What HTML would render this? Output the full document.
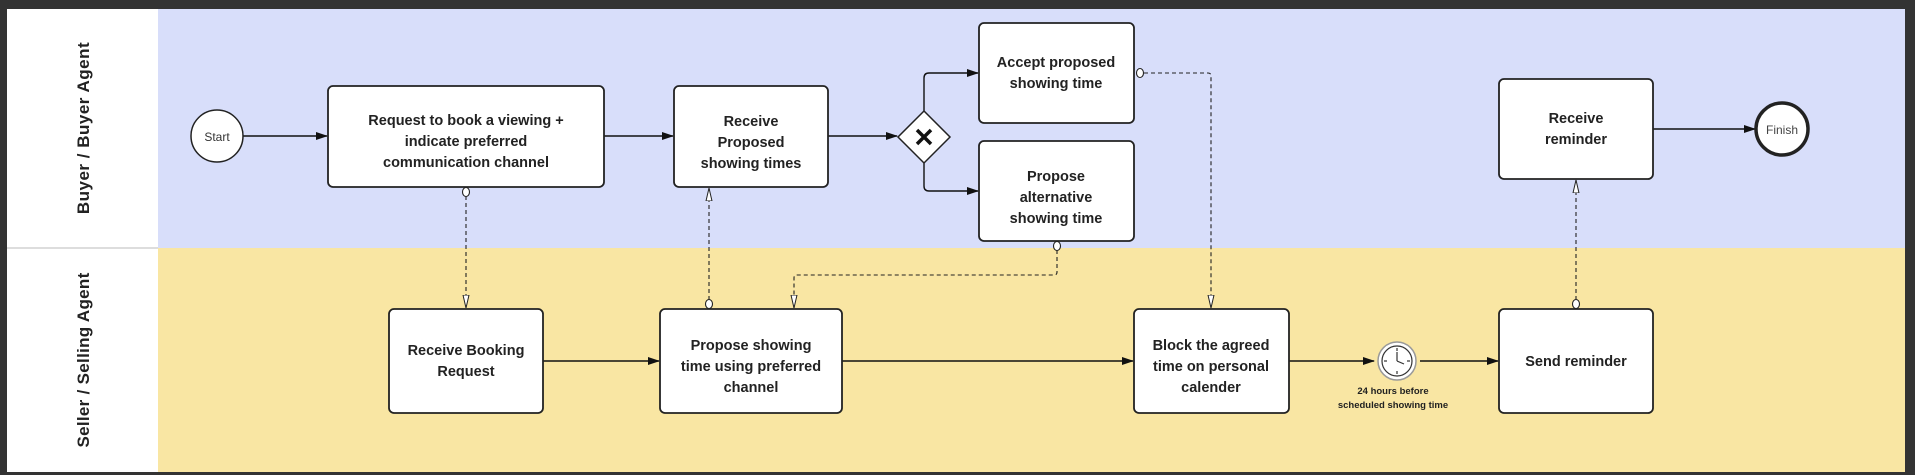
<!DOCTYPE html>
<html><head><meta charset="utf-8"><style>
html,body{margin:0;padding:0;background:#333;}
svg{display:block}
text{font-family:"Liberation Sans",sans-serif;}
.b{font-weight:bold;font-size:14.5px;fill:#222;text-anchor:middle}
</style></head><body>
<svg width="1915" height="475" viewBox="0 0 1915 475" xmlns="http://www.w3.org/2000/svg">
<defs>
<marker id="a" markerWidth="12" markerHeight="10" refX="11" refY="5" orient="auto" markerUnits="userSpaceOnUse"><path d="M0,1 L12,5 L0,9 Z" fill="#111"/></marker>
<marker id="o" markerWidth="14" markerHeight="8" refX="13" refY="4" orient="auto" markerUnits="userSpaceOnUse"><path d="M0,1 L13,4 L0,7 Z" fill="#fff" stroke="#222" stroke-width="1"/></marker>
</defs>
<rect x="0" y="0" width="1915" height="475" fill="#333"/>
<rect x="7" y="9" width="1898" height="463" fill="#fff"/>
<rect x="158" y="9" width="1747" height="239" fill="#d8defa"/>
<rect x="158" y="248" width="1747" height="224" fill="#f9e6a3"/>
<line x1="7" y1="248" x2="158" y2="248" stroke="#ddd" stroke-width="2"/>
<text transform="translate(89,128) rotate(-90)" text-anchor="middle" font-weight="bold" font-size="17" fill="#222" letter-spacing="0.5">Buyer / Buyer Agent</text>
<text transform="translate(89,360) rotate(-90)" text-anchor="middle" font-weight="bold" font-size="17" fill="#222" letter-spacing="0.3">Seller / Selling Agent</text>

<g stroke="#111" stroke-width="1.4" fill="none">
<line x1="243" y1="136" x2="327" y2="136" marker-end="url(#a)"/>
<line x1="604" y1="136" x2="673" y2="136" marker-end="url(#a)"/>
<line x1="828" y1="136" x2="897" y2="136" marker-end="url(#a)"/>
<path d="M924,112 V78 Q924,73 929,73 H978" marker-end="url(#a)"/>
<path d="M924,162 V186 Q924,191 929,191 H978" marker-end="url(#a)"/>
<line x1="543" y1="361" x2="659" y2="361" marker-end="url(#a)"/>
<line x1="842" y1="361" x2="1133" y2="361" marker-end="url(#a)"/>
<line x1="1289" y1="361" x2="1374" y2="361" marker-end="url(#a)"/>
<line x1="1420" y1="361" x2="1498" y2="361" marker-end="url(#a)"/>
<line x1="1653" y1="129" x2="1755" y2="129" marker-end="url(#a)"/>
</g>
<g stroke="#222" stroke-width="1.1" fill="none" stroke-dasharray="4,3">
<line x1="466" y1="196" x2="466" y2="308" marker-end="url(#o)"/>
<line x1="709" y1="300" x2="709" y2="188" marker-end="url(#o)"/>
<path d="M1057,250 V272 Q1057,275 1054,275 H797 Q794,275 794,278 V308" marker-end="url(#o)"/>
<path d="M1144,73 H1208 Q1211,73 1211,76 V308" marker-end="url(#o)"/>
<line x1="1576" y1="300" x2="1576" y2="180" marker-end="url(#o)"/>
</g>
<g fill="#fff" stroke="#222" stroke-width="1.1">
<ellipse cx="466" cy="192" rx="3.5" ry="4.5"/>
<ellipse cx="709" cy="304" rx="3.5" ry="4.5"/>
<ellipse cx="1057" cy="246" rx="3.5" ry="4.5"/>
<ellipse cx="1140" cy="73" rx="3.5" ry="4.5"/>
<ellipse cx="1576" cy="304" rx="3.5" ry="4.5"/>
</g>

<g fill="#fff" stroke="#222" stroke-width="1.8">
<circle cx="217" cy="136" r="26" stroke-width="1.5"/>
<rect x="328" y="86" width="276" height="101" rx="5"/>
<rect x="674" y="86" width="154" height="101" rx="5"/>
<path d="M924,111 L950,137 L924,163 L898,137 Z" stroke-width="1.5"/>
<rect x="979" y="23" width="155" height="100" rx="5"/>
<rect x="979" y="141" width="155" height="100" rx="5"/>
<rect x="1499" y="79" width="154" height="100" rx="5"/>
<circle cx="1782" cy="129" r="26" stroke-width="3.5"/>
<rect x="389" y="309" width="154" height="104" rx="5"/>
<rect x="660" y="309" width="182" height="104" rx="5"/>
<rect x="1134" y="309" width="155" height="104" rx="5"/>
<rect x="1499" y="309" width="154" height="104" rx="5"/>
</g>
<path d="M917,130 L931,144 M931,130 L917,144" stroke="#111" stroke-width="3.5"/>
<g>
<circle cx="1397" cy="361" r="19" fill="#fff" stroke="#999" stroke-width="1.5"/>
<circle cx="1397" cy="361" r="15" fill="#fff" stroke="#333" stroke-width="1.2"/>
<g stroke="#333" stroke-width="1.2">
<line x1="1397" y1="348" x2="1397" y2="351"/><line x1="1397" y1="371" x2="1397" y2="374"/>
<line x1="1384" y1="361" x2="1387" y2="361"/><line x1="1407" y1="361" x2="1410" y2="361"/>
<line x1="1397" y1="361" x2="1397" y2="352"/><line x1="1397" y1="361" x2="1404" y2="364"/>
</g>
</g>

<text x="217" y="141" text-anchor="middle" font-size="12" fill="#333">Start</text>
<text x="1782" y="134" text-anchor="middle" font-size="12" fill="#444">Finish</text>
<text class="b"><tspan x="466" y="125">Request to book a viewing +</tspan><tspan x="466" y="146">indicate preferred</tspan><tspan x="466" y="167">communication channel</tspan></text>
<text class="b"><tspan x="751" y="126">Receive</tspan><tspan x="751" y="147">Proposed</tspan><tspan x="751" y="168">showing times</tspan></text>
<text class="b"><tspan x="1056" y="67">Accept proposed</tspan><tspan x="1056" y="88">showing time</tspan></text>
<text class="b"><tspan x="1056" y="181">Propose</tspan><tspan x="1056" y="202">alternative</tspan><tspan x="1056" y="223">showing time</tspan></text>
<text class="b"><tspan x="1576" y="123">Receive</tspan><tspan x="1576" y="144">reminder</tspan></text>
<text class="b"><tspan x="466" y="355">Receive Booking</tspan><tspan x="466" y="376">Request</tspan></text>
<text class="b"><tspan x="751" y="350">Propose showing</tspan><tspan x="751" y="371">time using preferred</tspan><tspan x="751" y="392">channel</tspan></text>
<text class="b"><tspan x="1211" y="350">Block the agreed</tspan><tspan x="1211" y="371">time on personal</tspan><tspan x="1211" y="392">calender</tspan></text>
<text class="b" x="1576" y="366">Send reminder</text>
<text text-anchor="middle" font-size="9.5" font-weight="bold" fill="#222"><tspan x="1393" y="394">24 hours before</tspan><tspan x="1393" y="408">scheduled showing time</tspan></text>
</svg>
</body></html>
